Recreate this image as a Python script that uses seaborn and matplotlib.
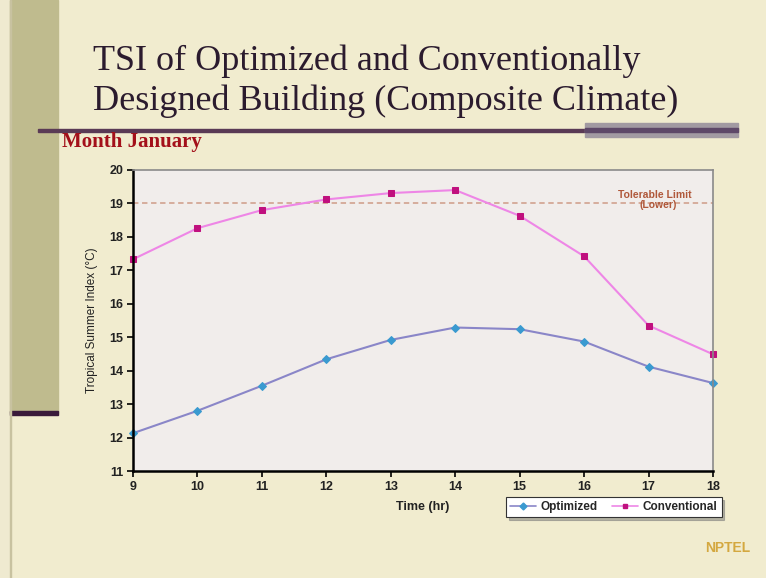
import pandas as pd
import numpy as np
import matplotlib
matplotlib.use('Agg')
import matplotlib.pyplot as plt
import seaborn as sns
from matplotlib.patches import Rectangle
from matplotlib.lines import Line2D

# --- datos ---
hours = [9, 10, 11, 12, 13, 14, 15, 16, 17, 18]
optimized = [12.13, 12.80, 13.55, 14.34, 14.92, 15.29, 15.24, 14.87, 14.12, 13.63]
conventional = [17.33, 18.26, 18.80, 19.12, 19.31, 19.40, 18.63, 17.42, 15.35, 14.49]
tolerable_limit = 19.0
y_ticks = [11, 12, 13, 14, 15, 16, 17, 18, 19, 20]

df = pd.DataFrame({
    'hour': hours * 2,
    'tsi': optimized + conventional,
    'serie': ['Optimized'] * len(hours) + ['Conventional'] * len(hours),
})

sns.set_theme(style='white')
plt.rcParams['font.family'] = ['Liberation Sans', 'DejaVu Sans']

W, H = 766, 578
fig = plt.figure(figsize=(W / 100, H / 100), dpi=100)
fig.patch.set_facecolor('#F1ECCF')

def box(x0, y0, x1, y1, color, z=0):
    fig.patches.append(Rectangle((x0 / W, 1 - y1 / H), (x1 - x0) / W, (y1 - y0) / H,
                                 transform=fig.transFigure, color=color, zorder=z))

# decoracion de la diapositiva
box(0, 0, 10, H, '#EFEAD0')
box(10, 0, 58, 413, '#BFBB8E')
box(10, 411, 58, 415, '#3A1A3A')
box(10, 0, 11, H, '#C8C2A0')
box(38, 129, 590, 132, '#5A3A55')
box(585, 123, 738, 137, '#A29AA2')
box(585, 128, 738, 132, '#5E4868')

fig.text(93 / W, 1 - 61 / H, 'TSI of Optimized and Conventionally', family='Liberation Serif',
         fontsize=26, color='#2B1B2E', va='center', ha='left')
fig.text(93 / W, 1 - 101 / H, 'Designed Building (Composite Climate)', family='Liberation Serif',
         fontsize=26, color='#2B1B2E', va='center', ha='left')
fig.text(62 / W, 1 - 142 / H, 'Month January', family='Liberation Serif', fontweight='bold',
         fontsize=15, color='#A3101A', va='center', ha='left')

ax = fig.add_axes([133 / W, 1 - 471 / H, 580 / W, 301 / H])
ax.set_facecolor('#F1EDEB')

sns.lineplot(data=df, x='hour', y='tsi', hue='serie', style='serie',
             palette={'Optimized': '#8A86C8', 'Conventional': '#EE86E6'},
             markers={'Optimized': 'D', 'Conventional': 's'}, dashes=False,
             linewidth=1.5, markersize=4, legend=False, ax=ax, clip_on=False)
# colores de los marcadores
for line, mc in zip(ax.lines, ['#3A9AD0', '#C0107E']):
    line.set_markerfacecolor(mc)
    line.set_markeredgecolor(mc)

ax.axhline(tolerable_limit, color='#D4A896', linestyle=(0, (3, 2)), linewidth=1.3, zorder=1)
ax.text(17.1, 19.1, 'Tolerable Limit', color='#B0583A', fontsize=7.5, fontweight='bold',
        ha='center', va='bottom')
ax.text(17.15, 19.1, '(Lower)', color='#B0583A', fontsize=7.5, fontweight='bold',
        ha='center', va='top')

ax.set_xlim(9, 18)
ax.set_ylim(11, 20)
ax.set_xticks(hours)
ax.set_yticks(y_ticks)
ax.tick_params(axis='both', direction='out', length=4, width=1.2, color='black',
               labelsize=9, pad=3, bottom=True, left=True)
for lab in ax.get_xticklabels() + ax.get_yticklabels():
    lab.set_fontweight('bold')
    lab.set_color('#222222')
ax.set_xlabel('Time (hr)', fontsize=9, fontweight='bold', color='#222222', labelpad=6)
ax.set_ylabel('Tropical Summer Index (°C)', fontsize=8.5, color='#222222', labelpad=8)

for side in ['left', 'bottom']:
    ax.spines[side].set_color('black')
    ax.spines[side].set_linewidth(1.8)
for side in ['top', 'right']:
    ax.spines[side].set_color('#8A8A8A')
    ax.spines[side].set_linewidth(1.2)

handles = [
    Line2D([], [], color='#8A86C8', marker='D', markersize=3.5, markerfacecolor='#3A9AD0',
           markeredgecolor='#3A9AD0', linewidth=1.2),
    Line2D([], [], color='#EE86E6', marker='s', markersize=3.5, markerfacecolor='#C0107E',
           markeredgecolor='#C0107E', linewidth=1.2),
]
leg = fig.legend(handles, ['Optimized', 'Conventional'], ncol=2, loc='center left',
                 bbox_to_anchor=(500 / W, 1 - 507 / H), frameon=True, fancybox=False,
                 shadow={'ox': 2, 'oy': -2, 'color': '#777777'}, edgecolor='#333333',
                 facecolor='white', framealpha=1,
                 prop={'weight': 'bold', 'size': 8.5}, handlelength=2.2, handletextpad=0.4,
                 columnspacing=1.2, borderpad=0.35)
leg.get_frame().set_linewidth(0.8)

fig.text(728 / W, 1 - 548 / H, 'NPTEL', fontsize=10, fontweight='bold', color='#D4A840',
         ha='center', va='center')

plt.savefig('out.png', dpi=100, facecolor=fig.get_facecolor())
